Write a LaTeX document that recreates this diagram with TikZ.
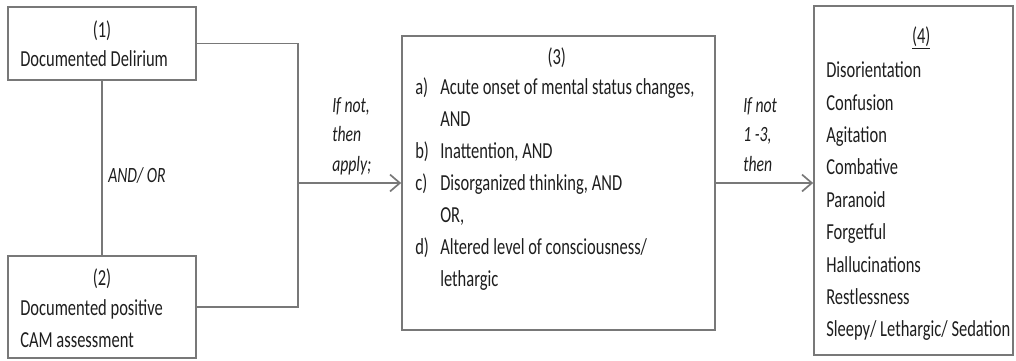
\documentclass[tikz,border=0pt]{standalone}
\usepackage{fontspec}
\setmainfont{Carlito}[FakeStretch=0.72]
\usepackage{tikz}
\usetikzlibrary{arrows.meta}
\usetikzlibrary{positioning}

\definecolor{linegray}{RGB}{120,120,120}
\definecolor{textgray}{RGB}{30,30,30}

\tikzset{
  box/.style={draw=linegray,line width=1.2pt,inner sep=0pt},
  txt/.style={inner sep=0pt,text=textgray,font=\fontsize{16.3}{22.5}\selectfont},
  note/.style={txt,font=\fontsize{15.5}{21.3}\selectfont\itshape,align=left},
  conn/.style={draw=linegray,line width=1.2pt},
  arr/.style={conn,-{Straight Barb[length=7pt,width=12pt,line width=1.2pt]}}
}

\begin{document}
\begin{tikzpicture}
\useasboundingbox (0,0) rectangle (25.4,-9);

\node[box,minimum width=4.7cm,minimum height=1.825cm] (b1) at (2.55,-1.0875) {};
\node[box,minimum width=4.7cm,minimum height=2.55cm] (b2) at (2.55,-7.675) {};
\node[box,minimum width=7.825cm,minimum height=7.35cm] (b3) at (13.9625,-4.575) {};
\node[box,minimum width=4.98cm,minimum height=8.725cm] (b4) at (22.84,-4.5125) {};

\node[txt] (n1) at (2.55,-0.78) {(1)};
\node[txt,anchor=base west] (dd) at (0.5,-1.66) {Documented Delirium};

\node[txt] (n2) at (2.55,-6.98) {(2)};
\node[txt,anchor=base west] (dp) at (0.5,-7.89) {Documented positive};
\node[txt,anchor=base west] (cam) at (0.5,-8.69) {CAM assessment};

\node[txt] (n3) at (13.92,-1.45) {(3)};
\foreach \lab/\item [count=\i from 0] in {a)/{Acute onset of mental status changes,},{}/AND,b)/{Inattention, AND},c)/{Disorganized thinking, AND},{}/{OR,},d)/{Altered level of consciousness/},{}/lethargic}{
  \node[txt,anchor=base west] (l\i) at (10.375,-2.365-0.8*\i) {\lab};
  \node[txt,anchor=base west] (t\i) at (11.0,-2.365-0.8*\i) {\item};
}

\node[txt] (n4) at (23.03,-0.95) {\underline{(4)}};
\foreach \sym [count=\i from 0] in {Disorientation,Confusion,Agitation,Combative,Paranoid,Forgetful,Hallucinations,Restlessness,{Sleepy/ Lethargic/ Sedation}}{
  \node[txt,anchor=base west] (s\i) at (20.65,-1.94-0.81*\i) {\sym};
}

% connectors
\draw[conn] (b1) -- (b2);
\node[note,anchor=base west] (andor) at (2.7,-4.55) {AND/ OR};

\coordinate (j) at (7.45,-4.575);
\draw[conn] (b1.east) -| (j) |- (b2.east);
\draw[arr] (j) -- (b3.west);
\node[note,anchor=north west] (ifnot) at (8.3,-2.42) {If not,\\then\\apply;};

\draw[arr] (b3.east) -- (b3.east -| b4.west);
\node[note,anchor=north west] (ifnot13) at (18.575,-2.42) {If not\\1 -3,\\then};
\end{tikzpicture}
\end{document}
